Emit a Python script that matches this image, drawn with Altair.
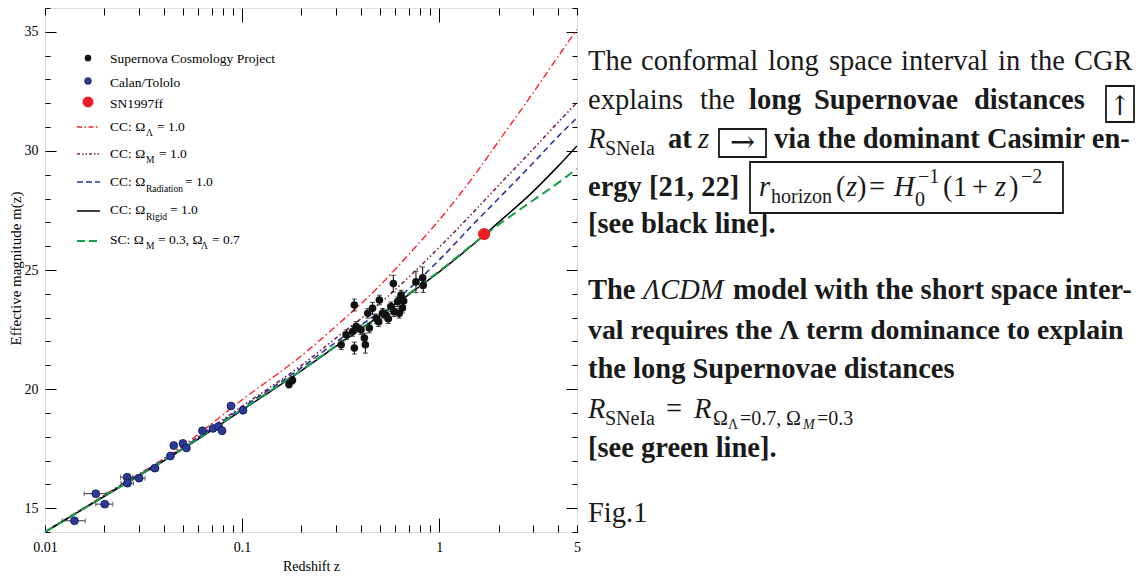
import altair as alt
import pandas as pd

SERIF = "Liberation Serif"

# ---------------- data ----------------
z_grid = [0.01, 0.02, 0.05, 0.1, 0.2, 0.3, 0.5, 0.7, 1.0, 1.5, 2.0, 3.0, 4.0, 5.0]
m_cc_lambda = [14.0, 15.55, 17.62, 19.55, 21.4, 22.65, 24.35, 25.65, 27.1, 28.95, 30.4, 32.45, 33.95, 35.1]
m_cc_matter = [14.0, 15.53, 17.56, 19.28, 21.0, 22.15, 23.6, 24.7, 25.95, 27.45, 28.55, 30.08, 31.19, 32.03]
m_cc_radiation = [14.0, 15.52, 17.53, 19.22, 20.9, 21.98, 23.25, 24.2, 25.42, 26.95, 28.0, 29.5, 30.6, 31.39]
m_cc_rigid = [14.0, 15.5, 17.48, 19.12, 20.78, 21.8, 23.08, 23.97, 24.92, 26.1, 27.0, 28.3, 29.35, 30.21]
m_sc_lcdm = [14.0, 15.5, 17.5, 19.15, 20.8, 21.82, 23.1, 24.0, 24.95, 26.12, 26.9, 27.93, 28.65, 29.25]

scp_z = [0.173, 0.180, 0.318, 0.337, 0.364, 0.371, 0.371, 0.379, 0.401, 0.417, 0.422,
         0.434, 0.442, 0.459, 0.480, 0.493, 0.497, 0.516, 0.537, 0.552, 0.569, 0.585,
         0.590, 0.615, 0.627, 0.640, 0.650, 0.660, 0.762, 0.824, 0.830]
scp_m = [20.20, 20.37, 21.86, 22.28, 22.42, 21.72, 23.53, 22.63, 22.49, 22.14, 21.86,
         23.18, 22.56, 23.39, 22.95, 22.83, 23.74, 23.18, 23.11, 22.95, 23.46, 24.43,
         23.25, 23.67, 23.18, 23.95, 23.40, 23.70, 24.50, 24.67, 24.36]
scp_err = [0.15, 0.15, 0.2, 0.2, 0.2, 0.25, 0.25, 0.2, 0.2, 0.2, 0.35,
           0.2, 0.2, 0.25, 0.2, 0.2, 0.2, 0.2, 0.2, 0.2, 0.2, 0.35,
           0.2, 0.2, 0.2, 0.2, 0.2, 0.2, 0.45, 0.45, 0.3]

ct_z = [0.0141, 0.0181, 0.0201, 0.0261, 0.0262, 0.0300, 0.0361, 0.0433, 0.0450,
        0.0501, 0.0522, 0.0629, 0.0712, 0.0760, 0.0791, 0.0878, 0.1010]
ct_m = [14.47, 15.61, 15.17, 16.30, 16.05, 16.26, 16.68, 17.19, 17.63,
        17.72, 17.53, 18.25, 18.35, 18.43, 18.25, 19.29, 19.11]
ct_zerr = [0.0019, 0.0023, 0.0020, 0.0019, 0.0019, 0.0022, 0.0016, 0.0010, 0.0010,
           0.0010, 0.0010, 0.0010, 0.0010, 0.0010, 0.0010, 0.0010, 0.0010]

sn_z = [1.69]
sn_m = [26.51]

x_ticks = [0.01, 0.02, 0.03, 0.04, 0.05, 0.06, 0.07, 0.08, 0.09,
           0.1, 0.2, 0.3, 0.4, 0.5, 0.6, 0.7, 0.8, 0.9, 1, 2, 3, 4, 5]
y_ticks = list(range(14, 37))

# ---------------- layout ----------------
W, H = 532, 524
OX, OY = 45, 8  # page position of the plot area's top-left corner
ONE = pd.DataFrame({"k": [0]})

xs = alt.Scale(type="log", domain=[0.01, 5], nice=False)
ys = alt.Scale(domain=[14, 36], nice=False, zero=False)

xaxis = alt.Axis(
    values=x_ticks,
    labelExpr="datum.value == 0.01 ? '0.01' : datum.value == 0.1 ? '0.1' : datum.value == 1 ? '1' : datum.value == 5 ? '5' : ''",
    ticks=False, domain=False, grid=True, gridColor="black", gridOpacity=1, gridWidth=1,
    gridDash={"condition": {"test": "datum.value == 0.1 || datum.value == 1",
                            "value": [14, H - 28, 14, 200]},
              "value": [7, H - 14, 7, 200]},
    labelFont=SERIF, labelFontSize=14, labelColor="black", labelPadding=8,
    labelFlush=False, labelOverlap=False, labelBound=False,
    title="Redshift z", titleFont=SERIF, titleFontSize=14, titleFontWeight="normal",
    titleColor="black", titlePadding=5,
)
yaxis = alt.Axis(
    values=y_ticks,
    labelExpr="datum.value % 5 == 0 ? datum.label : ''",
    ticks=False, domain=False, grid=True, gridColor="black", gridOpacity=1, gridWidth=1,
    gridDash={"condition": {"test": "datum.value % 5 == 0",
                            "value": [11, W - 22, 11, 200]},
              "value": [5, W - 10, 5, 200]},
    labelFont=SERIF, labelFontSize=14, labelColor="black", labelPadding=7,
    labelOverlap=False, labelFlush=False,
    title="Effective magnitude m(z)", titleFont=SERIF, titleFontSize=15,
    titleFontWeight="normal", titleColor="black",
    titleX=-30, titleY=260, titleAngle=270, titleBaseline="middle", titleAlign="center",
)


def X(field):
    return alt.X(field, type="quantitative", scale=xs, axis=xaxis)


def Y(field):
    return alt.Y(field, type="quantitative", scale=ys, axis=yaxis)


def curve(vals, color, width, dash=None):
    df = pd.DataFrame({"z": z_grid, "m": vals})
    kw = dict(color=color, strokeWidth=width, interpolate="monotone", clip=True)
    if dash:
        kw["strokeDash"] = dash
    return alt.Chart(df).mark_line(**kw).encode(x=X("z"), y=Y("m"))


RED, PURPLE, BLUE, GREEN, NAVY = "#ff1f26", "#7d2358", "#2a33a0", "#15a04a", "#2b3a96"

layers = [
    curve(m_cc_lambda, RED, 1.4, [7, 3, 1.5, 3]),
    curve(m_cc_matter, PURPLE, 1.6, [4, 2.5, 1.5, 2.5, 1.5, 2.5]),
    curve(m_cc_radiation, BLUE, 1.6, [6, 4]),
    curve(m_cc_rigid, "black", 1.5),
    curve(m_sc_lcdm, GREEN, 2.0, [9, 5]),
]

scp = pd.DataFrame({"z": scp_z, "m": scp_m, "lo": [a - b for a, b in zip(scp_m, scp_err)],
                    "hi": [a + b for a, b in zip(scp_m, scp_err)]})
ct = pd.DataFrame({"z": ct_z, "m": ct_m, "zlo": [a - b for a, b in zip(ct_z, ct_zerr)],
                   "zhi": [a + b for a, b in zip(ct_z, ct_zerr)]})
sn = pd.DataFrame({"z": sn_z, "m": sn_m})

layers += [
    alt.Chart(scp).mark_rule(color="black", strokeWidth=1).encode(x=X("z"), y=Y("lo"), y2="hi"),
    alt.Chart(scp).mark_tick(color="black", orient="horizontal", size=5, thickness=1).encode(x=X("z"), y=Y("hi")),
    alt.Chart(scp).mark_tick(color="black", orient="horizontal", size=5, thickness=1).encode(x=X("z"), y=Y("lo")),
    alt.Chart(ct).mark_rule(color="#333", strokeWidth=1).encode(x=X("zlo"), x2="zhi", y=Y("m")),
    alt.Chart(ct).mark_tick(color="#333", orient="vertical", size=5, thickness=1).encode(x=X("zlo"), y=Y("m")),
    alt.Chart(ct).mark_tick(color="#333", orient="vertical", size=5, thickness=1).encode(x=X("zhi"), y=Y("m")),
    alt.Chart(scp).mark_point(shape="circle", filled=True, size=58, color="#111", opacity=1).encode(x=X("z"), y=Y("m")),
    alt.Chart(ct).mark_point(shape="circle", filled=True, size=62, fill=NAVY, stroke="#101850",
                             strokeWidth=0.8, opacity=1).encode(x=X("z"), y=Y("m")),
    alt.Chart(sn).mark_point(shape="circle", filled=True, size=150, color="#ee1c25", opacity=1).encode(x=X("z"), y=Y("m")),
]


# ---------------- annotation helpers (page coordinates) ----------------
def txt(s, px, py, size=28.5, weight="normal", style="normal", color="#1a1a1a", align="left", font=SERIF):
    return alt.Chart(ONE).mark_text(
        text=s, font=font, fontSize=size, fontWeight=weight, fontStyle=style,
        color=color, align=align, baseline="alphabetic"
    ).encode(x=alt.value(px - OX), y=alt.value(py - OY))


def hline(px1, px2, py, color, width, dash=None):
    kw = dict(color=color, strokeWidth=width)
    if dash:
        kw["strokeDash"] = dash
    return alt.Chart(ONE).mark_rule(**kw).encode(
        x=alt.value(px1 - OX), x2=alt.value(px2 - OX), y=alt.value(py - OY))


def dot(px, py, size, color, stroke=None):
    kw = dict(shape="circle", filled=True, size=size, fill=color, opacity=1)
    if stroke:
        kw.update(stroke=stroke, strokeWidth=0.8)
    return alt.Chart(ONE).mark_point(**kw).encode(x=alt.value(px - OX), y=alt.value(py - OY))


def box(x1, x2, y1, y2):
    return alt.Chart(ONE).mark_rect(fillOpacity=0, stroke="#1a1a1a", strokeWidth=1.8).encode(
        x=alt.value(x1 - OX), x2=alt.value(x2 - OX), y=alt.value(y1 - OY), y2=alt.value(y2 - OY))


# ---------------- legend (inside plot) ----------------
LF, SF = 13.5, 9.5
layers += [
    dot(88, 58, 45, "#111"), txt("Supernova Cosmology Project", 110, 63, LF, color="black"),
    dot(88, 81, 45, NAVY, "#101850"), txt("Calan/Tololo", 110, 87, LF, color="black"),
    dot(88, 102, 120, "#ee1c25"), txt("SN1997ff", 110, 108, LF, color="black"),
    hline(77, 100, 127, RED, 1.4, [5, 2.5, 1.5, 2.5]),
    txt("CC: Ω", 110, 131, LF, color="black"), txt("Λ", 146, 136, SF, color="black"),
    txt("= 1.0", 157, 131, LF, color="black"),
    hline(77, 100, 154, PURPLE, 1.6, [3, 2, 1.5, 2, 1.5, 2]),
    txt("CC: Ω", 110, 158, LF, color="black"), txt("M", 146, 163, SF, color="black"),
    txt("= 1.0", 159, 158, LF, color="black"),
    hline(77, 100, 182, BLUE, 1.6, [6, 3]),
    txt("CC: Ω", 110, 186, LF, color="black"), txt("Radiation", 146, 192, SF, color="black"),
    txt("= 1.0", 185, 186, LF, color="black"),
    hline(77, 100, 211, "black", 1.5),
    txt("CC: Ω", 110, 214, LF, color="black"), txt("Rigid", 146, 220, SF, color="black"),
    txt("= 1.0", 170, 214, LF, color="black"),
    hline(77, 100, 241, GREEN, 2.0, [8, 4]),
    txt("SC: Ω", 110, 244, LF, color="black"), txt("M", 146, 249, SF, color="black"),
    txt("= 0.3, Ω", 158, 244, LF, color="black"), txt("Λ", 201, 249, SF, color="black"),
    txt("= 0.7", 212, 244, LF, color="black"),
]

# ---------------- right-hand text ----------------
B = "bold"
ARROWFONT = "DejaVu Serif"
layers += [
    # line 1
    txt("The", 588, 70), txt("conformal", 641, 70), txt("long", 768, 70), txt("space", 829, 70),
    txt("interval", 901, 70), txt("in", 998, 70), txt("the", 1030, 70), txt("CGR", 1074, 70),
    # line 2
    txt("explains", 588, 109), txt("the", 700, 109), txt("long", 749, 109, weight=B),
    txt("Supernovae", 814, 109, weight=B), txt("distances", 974, 109, weight=B),
    box(1106, 1134, 86, 122), txt("↑", 1120, 115, 27, align="center", font=ARROWFONT),
    # line 3
    txt("R", 588, 148, style="italic"), txt("SNeIa", 605, 155, 20),
    txt("at", 668, 148, weight=B), txt("z", 698, 148, style="italic"),
    box(719, 766, 129, 157), txt("→", 742.5, 152, 30, align="center", font=ARROWFONT),
    txt("via the dominant Casimir en-", 774, 148, weight=B),
    # line 4
    txt("ergy [21, 22]", 588, 196, weight=B),
    box(750, 1063, 162, 213),
    txt("r", 759, 196, style="italic"), txt("horizon", 771, 203, 20),
    txt("(", 836, 196), txt("z", 846, 196, style="italic"), txt(")", 857, 196),
    txt("=", 869, 196), txt("H", 894, 196, style="italic"),
    txt("−1", 918, 183, 20), txt("0", 915, 206, 20),
    txt("(", 943, 196), txt("1", 953, 196), txt("+", 972, 196),
    txt("z", 995, 196, style="italic"), txt(")", 1009, 196), txt("−2", 1021, 183, 20),
    # line 5
    txt("[see black line].", 588, 233, weight=B),
    # second paragraph
    txt("The", 588, 299, weight=B), txt("ΛCDM", 643, 299, style="italic"),
    txt("model with the short space inter-", 733, 299, weight=B),
    txt("val requires the Λ term dominance to explain", 588, 339, 27.8, weight=B),
    txt("the long Supernovae distances", 588, 378, weight=B),
    txt("R", 588, 418, style="italic"), txt("SNeIa", 605, 425, 20),
    txt("=", 666, 418), txt("R", 694, 418, style="italic"),
    txt("Ω", 713, 425, 20), txt("Λ", 728, 429, 14), txt("=0.7,", 740, 425, 20),
    txt("Ω", 786, 425, 20), txt("M", 803, 429, 14, style="italic"), txt("=0.3", 817, 425, 20),
    txt("[see green line].", 588, 457, weight=B),
    txt("Fig.1", 588, 522),
]

chart = alt.layer(*layers).properties(
    width=W, height=H,
    autosize=alt.AutoSizeParams(type="none"),
    padding={"left": 37, "top": 0, "right": 558, "bottom": 40},
).configure_view(stroke="black", strokeWidth=1.2).configure(background="white")

chart.save("out.html", embed_options={"renderer": "svg", "actions": False})
